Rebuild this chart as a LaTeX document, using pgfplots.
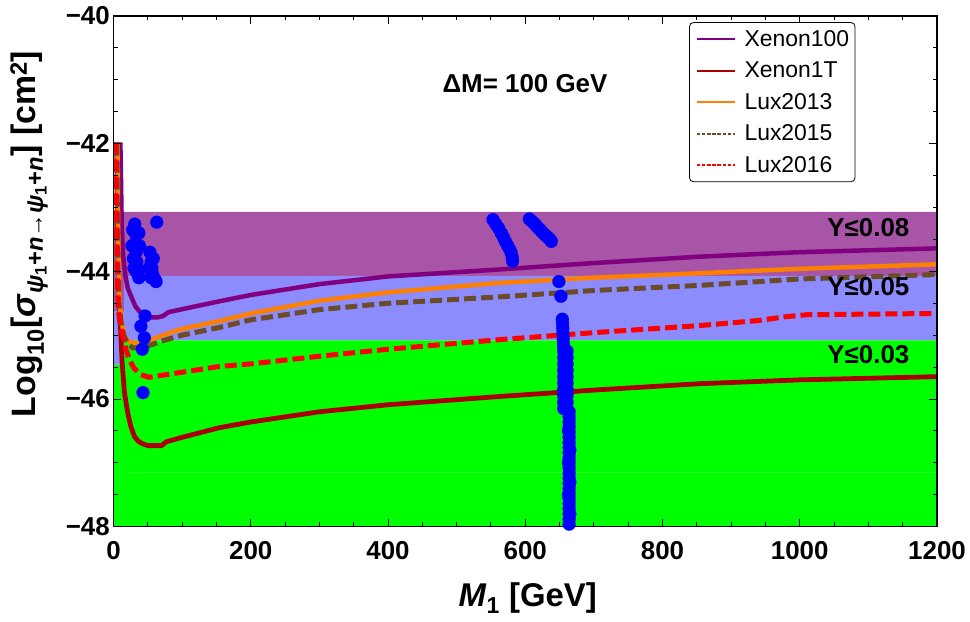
\documentclass[border=0pt]{standalone}
\usepackage{fontspec}
\setmainfont{Liberation Sans}
\usepackage{pgfplots}
\pgfplotsset{compat=1.18}
\definecolor{bandpurple}{RGB}{168,85,168}
\definecolor{bandblue}{RGB}{140,140,255}
\definecolor{bandgreen}{RGB}{0,255,0}
\definecolor{cxe100}{RGB}{128,0,128}
\definecolor{cxe1t}{RGB}{170,0,0}
\definecolor{clux13}{RGB}{255,128,0}
\definecolor{clux15}{RGB}{107,75,40}
\definecolor{clux16}{RGB}{255,0,0}
\definecolor{cpts}{RGB}{0,0,255}
\begin{document}
\begin{tikzpicture}
\begin{axis}[
  scale only axis, width=823.5bp, height=510.7bp,
  xmin=0, xmax=1200, ymin=-48, ymax=-40,
  xtick={0,200,400,600,800,1000,1200},
  xticklabels={0,200,400,600,800,1000,1200},
  ytick={-48,-46,-44,-42,-40},
  yticklabels={−48,−46,−44,−42,−40},
  minor x tick num=3, minor y tick num=3,
  tick align=inside, major tick length=8bp, minor tick length=4.5bp,
  tick style={line width=0.9bp, black},
  axis line style={line width=1.2bp},
  ticklabel style={font=\bfseries\fontsize{26}{26}\selectfont, inner sep=0pt},
  xticklabel style={anchor=north, yshift=-15bp},
  yticklabel style={anchor=east, xshift=-3.5bp},
  xlabel={\textit{M}\textsubscript{1} [GeV]},
  xlabel style={font=\bfseries\fontsize{33}{33}\selectfont, at={(axis description cs:0.503,-0.1096)}, anchor=north, inner sep=0pt},
  ylabel={Log\textsubscript{10}[\textit{σ}\textsubscript{\textit{ψ}\textsubscript{1}+\textit{n}→\textit{ψ}\textsubscript{1}+\textit{n}}] [cm\textsuperscript{2}]},
  ylabel style={font=\bfseries\fontsize{34}{34}\selectfont, at={(axis description cs:-0.0795,0.573)}, anchor=south, inner sep=0pt},
  axis on top,
  legend image code/.code={\draw[#1] (0bp,0bp) -- (38bp,0bp);},
  legend style={at={(rel axis cs:0.699,0.988)}, anchor=north west, draw=black, line width=0.8bp,
    rounded corners=4bp, font=\fontsize{23}{23}\selectfont, inner xsep=6bp, inner ysep=8bp,
    row sep=14bp, nodes={inner sep=0pt}, /tikz/every odd column/.append style={column sep=9bp}},
  legend cell align=left,
]
% bands
\addplot[fill=bandpurple, draw=none, forget plot] coordinates {
(0,-43.18) (15.5,-43.18) (15.5,-43.07) (1200,-43.07) (1200,-44.07) (15.5,-44.07) (15.5,-44.63) (0,-44.63)} -- cycle;
\addplot[fill=bandblue, draw=none, forget plot] coordinates {
(0,-44.63) (15.5,-44.63) (15.5,-44.07) (1200,-44.07) (1200,-45.08) (15.5,-45.08) (15.5,-45.46) (0,-45.46)} -- cycle;
\addplot[fill=bandgreen, draw=none, forget plot] coordinates {
(0,-45.46) (15.5,-45.46) (15.5,-45.08) (1200,-45.08) (1200,-48) (0,-48)} -- cycle;
\addplot[draw=green!80!white, line width=0.6bp, forget plot] coordinates {(24,-47.15) (1200,-47.15)};
% Xenon100
\addplot[draw=cxe100, line width=4.5bp, forget plot] coordinates {
(10,-41.98) (11,-42.6) (12,-43.3) (14,-43.75) (17.5,-44.08) (21,-44.27) (26,-44.4) (32,-44.55) (38,-44.63)
(45,-44.7) (55,-44.72) (65,-44.72) (72,-44.7) (80,-44.64) (110,-44.57) (154,-44.47) (200,-44.37)
(300,-44.2) (400,-44.08) (563,-43.97) (700,-43.87) (854,-43.77) (1000,-43.7) (1200,-43.64)};
% Xenon1T
\addplot[draw=cxe1t, line width=4.8bp, forget plot] coordinates {
(4.5,-41.98) (5.5,-43.0) (7,-43.86) (9,-44.6) (12.6,-45.43) (16,-45.9) (20.6,-46.21) (25,-46.42) (30.6,-46.59)
(36,-46.66) (42,-46.7) (50,-46.73) (70,-46.73) (77,-46.67) (100,-46.6) (154,-46.45) (200,-46.36)
(300,-46.2) (400,-46.09) (563,-45.96) (700,-45.86) (854,-45.76) (1000,-45.7) (1200,-45.65)};
% Lux2013
\addplot[draw=clux13, line width=4.5bp, forget plot] coordinates {
(6,-42.0) (6.5,-43.0) (7.5,-44.0) (9,-44.5) (12,-44.8) (16,-45.02) (22,-45.1) (30,-45.12) (38,-45.12)
(52,-45.08) (80,-44.97) (100,-44.9) (154,-44.78) (200,-44.66) (300,-44.46) (400,-44.33) (563,-44.18)
(700,-44.1) (854,-44.03) (1000,-43.96) (1200,-43.89)};
% Lux2015
\addplot[draw=clux15, line width=5bp, dash pattern=on 12bp off 5bp, forget plot] coordinates {
(5,-42.0) (5.5,-43.0) (6.5,-44.0) (8,-44.5) (11,-44.8) (15,-45.0) (20,-45.12) (28,-45.2) (40,-45.2)
(55,-45.15) (77,-45.07) (100,-45.0) (154,-44.88) (200,-44.76) (300,-44.6) (400,-44.5) (563,-44.4)
(700,-44.3) (854,-44.22) (1000,-44.12) (1200,-44.05)};
% Lux2016
\addplot[draw=clux16, line width=5bp, dash pattern=on 12bp off 5bp, forget plot] coordinates {
(3,-41.98) (4,-43.0) (5.5,-44.0) (7,-44.6) (10,-44.85) (13.6,-45.02) (18,-45.22) (23,-45.38) (30,-45.52)
(40,-45.62) (52,-45.66) (70,-45.63) (100,-45.58) (154,-45.49) (200,-45.45) (300,-45.33) (400,-45.22)
(563,-45.07) (700,-44.96) (854,-44.85) (940,-44.77) (980,-44.71) (1010,-44.68) (1100,-44.67) (1200,-44.66)};
% scan points
\addplot[only marks, color=cpts, mark=*, mark size=6.5bp, mark options={fill=cpts, draw=cpts, line width=0.1bp}, forget plot] coordinates {
(31,-43.26) (31.5,-43.4) (32,-43.55) (33,-43.7) (34,-43.85) (35,-43.95) (36,-44.05) (37,-44.1)
(28,-43.35) (27,-43.6) (29,-43.8) (38,-43.6) (37,-43.4) (33,-44.0) (30,-43.95)
(53,-43.7) (55,-43.85) (56,-43.95) (57,-44.05) (60,-44.12) (62,-44.16) (52,-43.95) (55,-44.1) (58,-43.8)
(63,-43.23)
(46,-44.7) (40,-44.86) (45,-45.04) (42,-45.22) (43,-45.9)
(553,-43.19) (557,-43.26) (561,-43.32) (565,-43.4) (568,-43.46) (571,-43.53) (574,-43.59) (577,-43.65)
(579.5,-43.71) (581,-43.78) (581.5,-43.84)
(606,-43.18) (609,-43.21) (612,-43.24) (615,-43.27) (618,-43.31) (621,-43.34) (624,-43.38) (627,-43.41)
(630,-43.44) (633,-43.47) (636,-43.5) (638,-43.53)
(649,-44.16) (652,-44.39)
(654,-44.75) (654.3,-44.82) (654.6,-44.9) (655,-44.98) (655.3,-45.06) (655.6,-45.14) (656,-45.2)
(656,-45.25) (656,-45.35) (656,-45.45) (656,-45.55) (656,-45.65) (656,-45.75) (656,-45.85) (656,-45.95) (656,-46.05) (656,-46.15)
(661,-45.25) (661,-45.35) (661,-45.45) (661,-45.55) (661,-45.65) (661,-45.75) (661,-45.85) (661,-45.95) (661,-46.05) (661,-46.15)
(659,-45.3) (659,-45.5) (659,-45.7) (659,-45.9) (659,-46.1)
(664,-46.2) (664,-46.28) (664,-46.36) (664,-46.44) (664,-46.52) (664,-46.6) (664,-46.68) (664,-46.76)
(664,-46.84) (664,-46.92) (664,-47.0) (664,-47.08) (664,-47.16) (664,-47.24) (664,-47.32) (664,-47.4)
(664,-47.48) (664,-47.56) (664,-47.64) (664,-47.72) (664,-47.8) (664,-47.88) (664,-47.96) (664,-48.04)
(663,-46.5) (663,-47.0) (663,-47.5) (665,-46.8) (665,-47.3) (665,-47.8)};
% labels
\node[font=\bfseries\fontsize{26}{26}\selectfont] at (axis cs:599.6,-41.065) {ΔM= 100 GeV};
\node[font=\bfseries\fontsize{26}{26}\selectfont] at (axis cs:1100,-43.32) {Y≤0.08};
\node[font=\bfseries\fontsize{26}{26}\selectfont] at (axis cs:1100,-44.24) {Y≤0.05};
\node[font=\bfseries\fontsize{26}{26}\selectfont] at (axis cs:1100,-45.31) {Y≤0.03};
% legend
\addlegendimage{draw=cxe100, line width=1.8bp}
\addlegendentry{Xenon100}
\addlegendimage{draw=cxe1t, line width=1.8bp}
\addlegendentry{Xenon1T}
\addlegendimage{draw=clux13, line width=1.8bp}
\addlegendentry{Lux2013}
\addlegendimage{draw=clux15, line width=2bp, dash pattern=on 3.6bp off 1.6bp}
\addlegendentry{Lux2015}
\addlegendimage{draw=clux16, line width=2bp, dash pattern=on 3.6bp off 1.6bp}
\addlegendentry{Lux2016}
\coordinate (SW) at (rel axis cs:0,0);
\coordinate (NE) at (rel axis cs:1,1);
\end{axis}
\pgfresetboundingbox
\path ([shift={(-113.5bp,-95.3bp)}]SW) rectangle ([shift={(33bp,16bp)}]NE);
\end{tikzpicture}
\end{document}
